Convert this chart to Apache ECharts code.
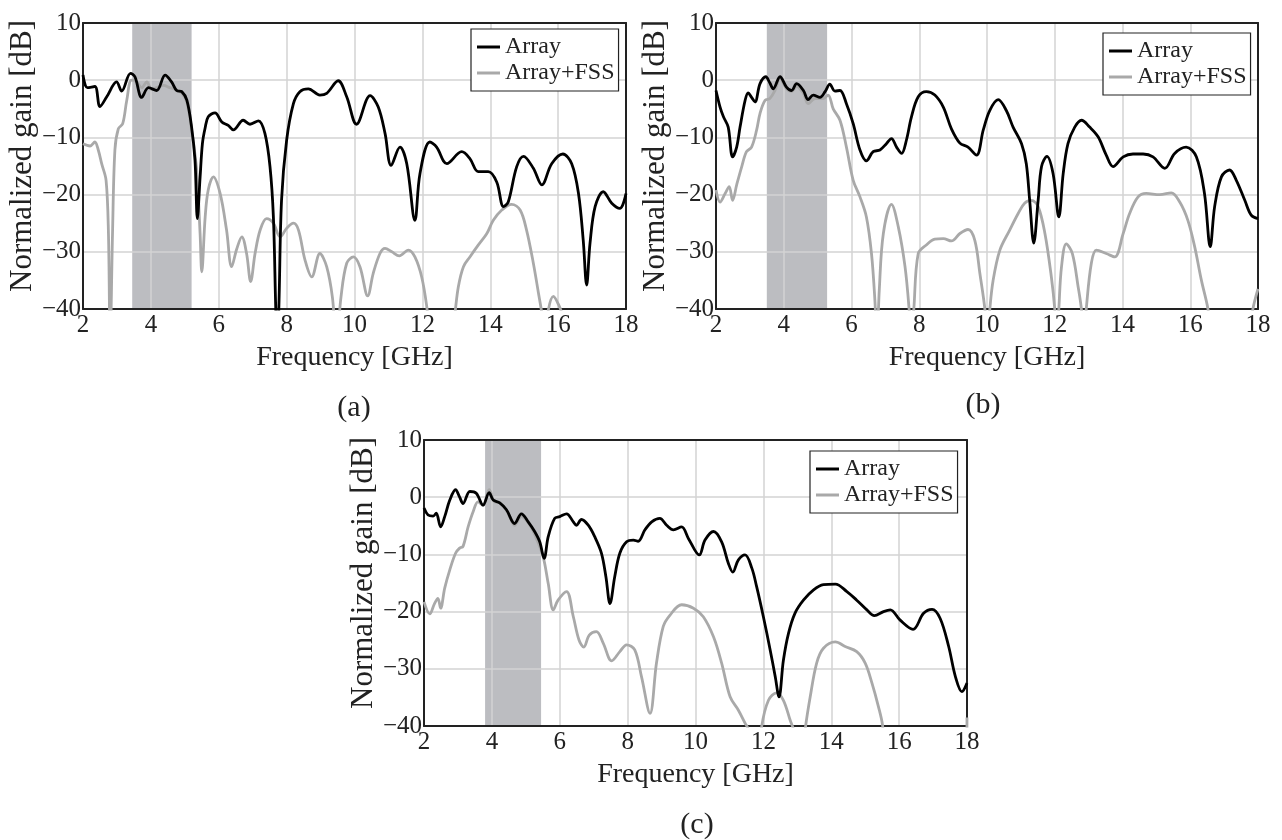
<!DOCTYPE html>
<html>
<head>
<meta charset="utf-8">
<script src="https://cdn.jsdelivr.net/npm/echarts@6/dist/echarts.min.js"></script>
<style>
html,body{margin:0;padding:0;background:#fff;}
#chart{width:1282px;height:840px;}
</style>
</head>
<body>
<div id="chart"></div>
<script>
// ---------- data (frequency GHz, normalized gain dB) ----------
const xTicks = [2, 18, 2];          // min, max, step
const yTicks = [-40, 10, 10];       // min, max, step
const seriesNames = ['Array', 'Array+FSS'];
const panelLabels = ['(a)', '(b)', '(c)'];
const xTitle = 'Frequency [GHz]';
const yTitle = 'Normalized gain [dB]';

const bandA = [3.45, 5.2];
const bandB = [3.5, 5.28];
const bandC = [3.8, 5.45];

const panelA_array = [[2.0,0.9],[2.13,-1.3],[2.35,-1.1],[2.5,-4.6],[2.7,-2.9],[2.99,-0.3],[3.14,-1.9],[3.4,1.2],[3.53,0.6],[3.73,-3.0],[3.93,-1.3],[4.17,-1.8],[4.42,0.9],[4.61,-0.3],[4.76,-1.8],[4.91,-2.0],[5.06,-3.5],[5.2,-8.2],[5.3,-14],[5.37,-24.2],[5.45,-17],[5.52,-11],[5.6,-8.3],[5.69,-6.4],[5.89,-5.7],[6.09,-7.3],[6.28,-7.9],[6.43,-8.7],[6.72,-7.0],[6.92,-7.7],[7.17,-7.1],[7.36,-9.3],[7.51,-15.1],[7.61,-23.9],[7.68,-40],[7.72,-46],[7.77,-40],[7.85,-21],[8.0,-10.5],[8.2,-4.1],[8.39,-2.0],[8.64,-1.5],[8.98,-2.6],[9.18,-2.3],[9.52,-0.1],[9.77,-2.9],[10.06,-7.7],[10.46,-2.7],[10.7,-4.7],[10.9,-9.3],[11.08,-14.9],[11.34,-11.7],[11.54,-14.6],[11.78,-24.5],[11.93,-16.3],[12.22,-10.8],[12.42,-11.7],[12.72,-14.6],[13.16,-12.5],[13.4,-13.7],[13.65,-16.0],[13.94,-16.0],[14.19,-17.8],[14.39,-22.1],[14.53,-21.3],[14.78,-15.1],[14.98,-13.3],[15.27,-15.4],[15.52,-18.3],[15.81,-14.6],[16.14,-12.9],[16.4,-14.6],[16.6,-19.8],[16.74,-28.0],[16.84,-35.8],[16.94,-28.5],[17.09,-22.1],[17.33,-19.5],[17.58,-21.5],[17.82,-22.4],[18.0,-19.8]];

const panelA_fss = [[2.0,-11.1],[2.21,-11.5],[2.35,-10.8],[2.45,-12.2],[2.55,-14.6],[2.68,-17.5],[2.75,-26.8],[2.8,-46],[2.87,-26.8],[2.94,-12.2],[3.04,-8.5],[3.17,-7.6],[3.29,-3.5],[3.43,0],[3.58,-0.3],[3.73,-1.3],[3.88,-0.3],[4.02,-1.6],[4.17,-1.3],[4.37,-0.9],[4.56,-1.3],[4.71,-1.6],[4.91,-2.3],[5.06,-3.8],[5.2,-8.7],[5.35,-15.7],[5.45,-26.8],[5.5,-33.5],[5.6,-23.9],[5.69,-19.2],[5.84,-16.9],[6.04,-19.8],[6.23,-26.2],[6.38,-32.6],[6.53,-29.5],[6.68,-27.4],[6.82,-30.3],[6.94,-35.2],[7.07,-30.3],[7.22,-26.2],[7.41,-24.2],[7.61,-25.0],[7.81,-27.4],[8.0,-25.9],[8.2,-25.0],[8.35,-26.2],[8.54,-31.4],[8.74,-34.4],[8.98,-30.3],[9.18,-32.6],[9.35,-38],[9.47,-46],[9.6,-38],[9.77,-32],[9.97,-30.9],[10.16,-32.6],[10.39,-37.7],[10.55,-33.8],[10.75,-30.3],[10.9,-29.4],[11.1,-30.0],[11.32,-30.7],[11.59,-29.7],[11.78,-30.9],[11.98,-34.4],[12.13,-39.6],[12.25,-46],[12.85,-46],[12.96,-40.8],[13.06,-36.1],[13.21,-32.6],[13.4,-30.9],[13.65,-28.8],[13.9,-26.8],[14.09,-24.5],[14.34,-22.7],[14.63,-21.7],[14.88,-22.7],[15.07,-26.2],[15.27,-32.0],[15.42,-37.2],[15.52,-40.8],[15.6,-46],[15.71,-40.2],[15.86,-37.8],[16.01,-39.2],[16.12,-41],[16.25,-46],[18.0,-46]];

const panelB_array = [[2.0,-1.8],[2.12,-4.7],[2.22,-6.4],[2.36,-8.2],[2.49,-13.4],[2.61,-11.7],[2.71,-8.2],[2.86,-3.5],[2.95,-2.2],[3.05,-3.0],[3.15,-3.8],[3.3,-0.6],[3.47,0.6],[3.59,-0.5],[3.69,-1.5],[3.89,0.6],[4.08,-1.2],[4.23,-1.8],[4.38,-0.6],[4.58,-1.8],[4.72,-3.4],[4.87,-2.6],[5.07,-3.0],[5.22,-2.0],[5.36,-0.7],[5.51,-1.9],[5.66,-1.8],[5.85,-4.1],[6.05,-7.6],[6.25,-12.2],[6.44,-14.1],[6.64,-12.5],[6.84,-12.2],[7.03,-11.1],[7.18,-10.2],[7.33,-11.7],[7.48,-12.8],[7.62,-10.5],[7.77,-6.4],[7.97,-2.9],[8.21,-2.0],[8.46,-2.6],[8.71,-4.7],[8.95,-8.5],[9.2,-11.0],[9.44,-11.7],[9.69,-13.1],[9.89,-8.7],[10.08,-5.3],[10.33,-3.4],[10.57,-5.3],[10.77,-8.2],[11.02,-11.1],[11.16,-14.6],[11.26,-21.0],[11.38,-28.5],[11.51,-21.0],[11.61,-15.1],[11.77,-13.3],[11.95,-16.3],[12.12,-23.9],[12.25,-16.3],[12.39,-11.1],[12.59,-8.2],[12.79,-7.0],[13.03,-8.2],[13.28,-9.9],[13.52,-13.1],[13.72,-15.1],[14.02,-13.4],[14.31,-12.9],[14.61,-12.9],[14.9,-13.4],[15.25,-15.4],[15.54,-12.8],[15.88,-11.7],[16.18,-13.4],[16.42,-19.8],[16.59,-29.1],[16.72,-22.1],[16.92,-16.9],[17.16,-15.7],[17.36,-17.5],[17.61,-21.0],[17.8,-23.6],[18.0,-24.2]];

const panelB_fss = [[2.0,-19.2],[2.12,-21.3],[2.27,-19.8],[2.39,-18.6],[2.49,-21],[2.61,-18.3],[2.76,-15.1],[2.9,-12.5],[3.05,-11.7],[3.2,-8.7],[3.3,-5.8],[3.45,-3.5],[3.59,-3.2],[3.74,-1.8],[3.89,0.3],[4.08,-1.5],[4.23,-2.0],[4.38,-1.1],[4.58,-2.3],[4.72,-4.1],[4.92,-3.2],[5.17,-3.2],[5.31,-2.6],[5.46,-5.0],[5.66,-7.0],[5.85,-11.7],[6.05,-17.5],[6.25,-20.4],[6.44,-23.9],[6.59,-30.3],[6.69,-38.4],[6.75,-46],[6.82,-36.7],[6.94,-26.8],[7.18,-21.7],[7.38,-25.6],[7.58,-32.6],[7.7,-40],[7.76,-46],[7.84,-40],[7.97,-30.3],[8.21,-28.8],[8.46,-27.8],[8.71,-27.7],[8.95,-28.1],[9.2,-26.8],[9.44,-26.1],[9.64,-28],[9.79,-33.8],[9.94,-40.2],[10.0,-46],[10.08,-40.2],[10.18,-35],[10.38,-29.7],[10.67,-26.2],[10.92,-23.3],[11.11,-21.5],[11.31,-21.0],[11.51,-22.1],[11.71,-26.8],[11.9,-34.4],[12.0,-40],[12.06,-46],[12.12,-40],[12.2,-32.6],[12.34,-28.6],[12.52,-30.3],[12.69,-36.1],[12.79,-40.2],[12.85,-46],[12.93,-40],[13.08,-32.0],[13.23,-29.7],[13.52,-30.3],[13.77,-30.9],[14.02,-26.8],[14.21,-23.3],[14.46,-20.4],[14.7,-19.8],[15.1,-20.0],[15.44,-19.7],[15.69,-21.3],[15.93,-24.5],[16.13,-29.1],[16.33,-35],[16.52,-39.9],[16.67,-46],[17.7,-46],[17.85,-40],[18.0,-36.5]];

const panelC_array = [[2.0,-1.9],[2.12,-3.1],[2.27,-3.3],[2.36,-2.8],[2.49,-5.2],[2.61,-3.4],[2.76,-0.5],[2.93,1.3],[3.05,0],[3.15,-1.1],[3.35,1.0],[3.54,0.7],[3.74,-1.4],[3.92,0.8],[4.04,-0.5],[4.23,-1.0],[4.43,-2.2],[4.67,-4.6],[4.87,-2.9],[5.07,-4.3],[5.26,-6.0],[5.41,-7.8],[5.54,-10.7],[5.66,-6.9],[5.85,-3.7],[6.0,-3.4],[6.2,-2.9],[6.4,-4.3],[6.49,-4.9],[6.64,-3.9],[6.84,-4.9],[7.03,-6.9],[7.23,-9.8],[7.36,-13.9],[7.48,-18.6],[7.62,-13.9],[7.77,-9.8],[7.97,-7.8],[8.17,-7.5],[8.31,-7.7],[8.51,-5.7],[8.71,-4.3],[8.95,-3.7],[9.15,-4.9],[9.35,-5.7],[9.59,-5.2],[9.79,-7.2],[10.11,-10.1],[10.28,-7.5],[10.53,-6.0],[10.77,-7.8],[10.97,-11.6],[11.1,-13.1],[11.26,-11.0],[11.46,-10.1],[11.66,-12.4],[11.8,-15.6],[12.0,-20.9],[12.2,-26.7],[12.35,-31.4],[12.46,-34.9],[12.59,-28.5],[12.74,-23.8],[12.93,-20.3],[13.18,-18.0],[13.48,-16.2],[13.77,-15.3],[14.12,-15.2],[14.46,-16.5],[14.75,-18.0],[15.05,-19.7],[15.27,-20.7],[15.54,-20.0],[15.74,-19.7],[16.03,-21.5],[16.41,-23.1],[16.72,-20.3],[16.97,-19.6],[17.21,-21.2],[17.46,-26.1],[17.66,-31.4],[17.85,-34.0],[18.0,-32.5]];

const panelC_fss = [[2.0,-18.3],[2.17,-20.4],[2.31,-18.6],[2.41,-17.7],[2.49,-19.4],[2.61,-15.9],[2.76,-12.7],[2.93,-9.8],[3.05,-8.9],[3.15,-8.6],[3.3,-5.2],[3.45,-2.5],[3.59,-0.8],[3.74,-1.4],[3.92,1.3],[4.08,-0.8],[4.25,-1.0],[4.48,-2.8],[4.67,-4.9],[4.87,-3.4],[5.12,-4.9],[5.31,-7.2],[5.51,-10.4],[5.66,-15.1],[5.81,-19.7],[5.95,-18.0],[6.2,-16.5],[6.4,-20.9],[6.57,-25.0],[6.71,-26.2],[6.87,-24.1],[7.08,-23.5],[7.28,-25.5],[7.53,-28.6],[7.77,-27.0],[7.97,-25.8],[8.21,-26.7],[8.41,-31.4],[8.66,-37.8],[8.85,-29],[9.05,-22.6],[9.25,-20.6],[9.59,-18.8],[9.94,-19.4],[10.23,-20.9],[10.53,-24.4],[10.77,-29.0],[11.02,-34.9],[11.26,-37.2],[11.46,-39.5],[11.56,-40.7],[11.65,-46],[11.88,-46],[11.95,-40.1],[12.15,-35.5],[12.39,-34.2],[12.59,-35.5],[12.79,-39.0],[12.89,-40.7],[13.0,-46],[13.15,-46],[13.23,-40.7],[13.38,-34.9],[13.57,-29.0],[13.77,-26.4],[14.12,-25.3],[14.41,-26.1],[14.75,-27.0],[15.0,-29.0],[15.2,-32.5],[15.39,-36.6],[15.51,-39.8],[15.6,-46],[17.9,-46],[18.0,-38.5]];

// ---------- layout / style ----------
const FONT = '"Liberation Serif", "DejaVu Serif", serif';
const grids = [
  {left: 83, top: 23, width: 543, height: 286},
  {left: 716, top: 23, width: 542, height: 286},
  {left: 424, top: 440, width: 543, height: 286}
];
const legendPos = [
  {left: 471, top: 29},
  {left: 1103, top: 33},
  {left: 810, top: 451}
];
const labelPos = [[354, 408], [983, 405], [697, 825]];
const bands = [bandA, bandB, bandC];
const panels = [[panelA_array, panelA_fss], [panelB_array, panelB_fss], [panelC_array, panelC_fss]];
const colors = ['#000000', '#a9a9a9'];
const minus = v => String(v).replace('-', '\u2212');

const xAxes = [], yAxes = [], series = [], legends = [], graphics = [];
grids.forEach((g, i) => {
  const frame = {show: true, onZero: false, lineStyle: {color: '#222', width: 2}};
  xAxes.push({
    gridIndex: i, type: 'value', min: xTicks[0], max: xTicks[1], interval: xTicks[2],
    position: 'bottom', z: 1.5,
    axisLine: frame, axisTick: {show: false},
    axisLabel: {fontFamily: FONT, fontSize: 25, color: '#222', margin: 4},
    splitLine: {show: true, lineStyle: {color: '#d3d3d3', width: 1.5}},
    name: xTitle, nameLocation: 'middle', nameGap: 35,
    nameTextStyle: {fontFamily: FONT, fontSize: 28, color: '#222'}
  });
  xAxes.push({
    gridIndex: i, type: 'value', min: xTicks[0], max: xTicks[1], interval: xTicks[2],
    position: 'top', z: 1.5, axisLine: frame, axisTick: {show: false},
    axisLabel: {show: false}, splitLine: {show: false}
  });
  yAxes.push({
    gridIndex: i, type: 'value', min: yTicks[0], max: yTicks[1], interval: yTicks[2],
    position: 'left', z: 1.5,
    axisLine: frame, axisTick: {show: false},
    axisLabel: {fontFamily: FONT, fontSize: 25, color: '#222', margin: 2, formatter: minus},
    splitLine: {show: true, lineStyle: {color: '#d3d3d3', width: 1.5}},
    name: yTitle, nameLocation: 'middle', nameGap: 44,
    nameTextStyle: {fontFamily: FONT, fontSize: 31, color: '#222', padding: [0, 0, 0, 20]}
  });
  yAxes.push({
    gridIndex: i, type: 'value', min: yTicks[0], max: yTicks[1], interval: yTicks[2],
    position: 'right', z: 1.5, axisLine: frame, axisTick: {show: false},
    axisLabel: {show: false}, splitLine: {show: false}
  });
  // shaded band
  series.push({
    type: 'line', xAxisIndex: i * 2, yAxisIndex: i * 2, data: [], silent: true, z: 0,
    markArea: {silent: true, itemStyle: {color: '#bcbdc1', opacity: 1},
      data: [[{xAxis: bands[i][0]}, {xAxis: bands[i][1]}]]}
  });
  // gray first, black on top
  [1, 0].forEach(k => {
    series.push({
      name: seriesNames[k], type: 'line', xAxisIndex: i * 2, yAxisIndex: i * 2,
      data: panels[i][k], showSymbol: false, smooth: 0.35, clip: true,
      color: colors[k], z: k === 0 ? 3 : 2,
      lineStyle: {color: colors[k], width: 2.8}
    });
  });
  legends.push({
    left: legendPos[i].left, top: legendPos[i].top, orient: 'vertical',
    data: seriesNames, icon: 'rect', itemWidth: 23, itemHeight: 3, itemGap: 2,
    padding: [6, 4, 6, 6], backgroundColor: '#fff', borderColor: '#222', borderWidth: 1.2,
    selectedMode: false,
    textStyle: {fontFamily: FONT, fontSize: 24, color: '#222', lineHeight: 24}
  });
  graphics.push({
    type: 'text', x: labelPos[i][0], y: labelPos[i][1],
    style: {text: panelLabels[i], font: '30px ' + FONT, fill: '#222',
      textAlign: 'center', textVerticalAlign: 'middle'}
  });
});

const chart = echarts.init(document.getElementById('chart'), null, {renderer: 'canvas'});
chart.setOption({
  animation: false,
  backgroundColor: '#fff',
  grid: grids,
  xAxis: xAxes,
  yAxis: yAxes,
  legend: legends,
  series: series,
  graphic: graphics
});
</script>
</body>
</html>
